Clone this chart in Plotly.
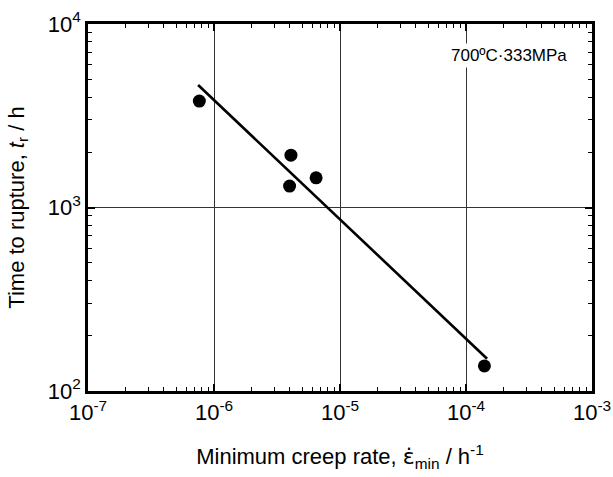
import plotly.graph_objects as go

# data
creep_rate = [7.65e-7, 4.08e-6, 3.98e-6, 6.46e-6, 1.40e-4]
rupture_time = [3804, 1928, 1309, 1452, 137]
fit_x = [7.48e-7, 1.47e-4]
fit_y = [4650, 150]

x_tickvals = [1e-7, 1e-6, 1e-5, 1e-4, 1e-3]
x_ticktext = ["10<sup>-7</sup>", "10<sup>-6</sup>", "10<sup>-5</sup>", "10<sup>-4</sup>", "10<sup>-3</sup>"]
y_tickvals = [1e2, 1e3, 1e4]
y_ticktext = ["10<sup>2</sup>", "10<sup>3</sup>", "10<sup>4</sup>"]
mantissas = [2, 3, 4, 5, 6, 7, 8, 9]
x_minor = [m * d for d in [1e-7, 1e-6, 1e-5, 1e-4] for m in mantissas]
y_minor = [m * d for d in [1e2, 1e3] for m in mantissas]

font = "Liberation Sans, Arial, sans-serif"

fig = go.Figure()
fig.add_trace(go.Scatter(x=fit_x, y=fit_y, mode="lines",
                         line=dict(color="black", width=2.6), showlegend=False))
fig.add_trace(go.Scatter(x=creep_rate, y=rupture_time, mode="markers",
                         marker=dict(color="black", size=13), showlegend=False))

axis_common = dict(
    type="log", showline=True, linecolor="black", linewidth=2.6, mirror="ticks",
    ticks="inside", ticklen=7, tickwidth=1.5, tickcolor="black",
    showgrid=True, gridcolor="#333333", gridwidth=1, zeroline=False,
    tickfont=dict(family=font, size=22, color="black"), automargin=False,
)

fig.update_xaxes(range=[-7, -3], tickvals=x_tickvals, ticktext=x_ticktext,
                 minor=dict(tickvals=x_minor, ticks="inside", ticklen=4, tickwidth=1.3,
                            tickcolor="black", showgrid=False),
                 title=dict(text="Minimum creep rate, <span style=\"font-family:DejaVu Sans\">ε̇</span><sub>min</sub> / h<sup>-1</sup>",
                            font=dict(family=font, size=22, color="black"), standoff=25),
                 **axis_common)
fig.update_yaxes(range=[2, 4], tickvals=y_tickvals, ticktext=y_ticktext,
                 minor=dict(tickvals=y_minor, ticks="inside", ticklen=4, tickwidth=1.3,
                            tickcolor="black", showgrid=False),
                 title=dict(text="Time to rupture, <i>t</i><sub>r</sub> / h",
                            font=dict(family=font, size=22, color="black"), standoff=18),
                 **axis_common)

fig.add_annotation(text="700ºC·333MPa", xref="paper", yref="paper", x=0.957, y=0.915,
                   xanchor="right", yanchor="middle", showarrow=False, bgcolor="white",
                   borderpad=2, font=dict(family=font, size=17, color="black"))

fig.update_layout(width=613, height=477, margin=dict(l=88, r=21, t=24, b=86),
                  plot_bgcolor="white", paper_bgcolor="white")

fig.write_html("out.html")
